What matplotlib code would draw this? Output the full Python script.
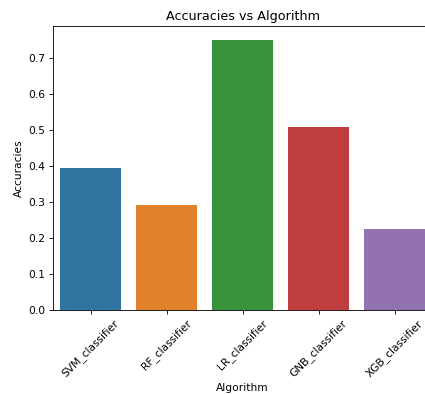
import matplotlib
matplotlib.use("Agg")
import matplotlib.pyplot as plt
import seaborn as sns

algorithms = ['SVM_classifier', 'RF_classifier', 'LR_classifier', 'GNB_classifier', 'XGB_classifier']
accuracies = [0.394, 0.291, 0.751, 0.508, 0.225]

# original was a 640x480 figure shown at ~0.77 scale, then cropped on the right
dpi = 76.6
fig = plt.figure(figsize=(425 / dpi, 394 / dpi), dpi=dpi)
ax = fig.add_axes([0.124, 0.213, 0.894, 0.721])

sns.barplot(x=algorithms, y=accuracies, hue=algorithms, palette='tab10',
            saturation=0.75, legend=False, ax=ax)

ax.set_title('Accuracies vs Algorithm')
ax.set_xlabel('Algorithm')
ax.set_ylabel('Accuracies')
plt.setp(ax.get_xticklabels(), rotation=45)

fig.savefig('out.png', dpi=dpi)
